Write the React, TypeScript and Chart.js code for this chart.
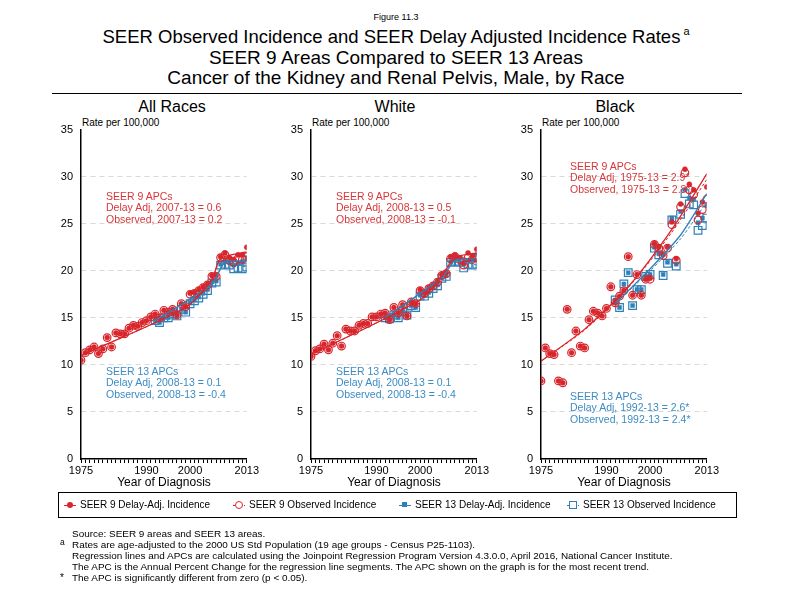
import React, { useEffect, useRef } from "react";
import { Chart, registerables } from "chart.js";
Chart.register(...registerables);

const FONT = "'Liberation Sans', Arial, sans-serif";
const RED = "#d8262c";
const BLUE = "#2f80b7";
const RED_TXT = "#d6373a";
const BLUE_TXT = "#3c8cc2";

// ---------- categories ----------
const YEARS_9 = [1975, 1976, 1977, 1978, 1979, 1980, 1981, 1982, 1983, 1984, 1985, 1986, 1987, 1988, 1989, 1990, 1991, 1992, 1993, 1994, 1995, 1996, 1997, 1998, 1999, 2000, 2001, 2002, 2003, 2004, 2005, 2006, 2007, 2008, 2009, 2010, 2011, 2012, 2013];
const YEARS_13 = [1992, 1993, 1994, 1995, 1996, 1997, 1998, 1999, 2000, 2001, 2002, 2003, 2004, 2005, 2006, 2007, 2008, 2009, 2010, 2011, 2012, 2013];
const X_LABEL_YEARS = [1975, 1990, 2000, 2013];

// ---------- All Races ----------
const AR9_DA = [10.5, 11.3, 11.6, 11.9, 11.2, 11.7, 12.9, 11.9, 13.4, 13.3, 13.3, 13.9, 14.2, 14.1, 14.5, 14.7, 15.1, 15.4, 15.0, 15.8, 15.6, 15.9, 15.3, 16.5, 16.2, 17.6, 17.7, 18.0, 18.3, 18.6, 19.5, 19.5, 21.5, 21.9, 21.4, 21.2, 21.7, 21.7, 22.5];
const AR9_OBS = [10.5, 11.3, 11.6, 11.9, 11.2, 11.7, 12.9, 11.9, 13.4, 13.3, 13.3, 13.9, 14.2, 14.1, 14.5, 14.7, 15.1, 15.4, 15.0, 15.8, 15.6, 15.9, 15.3, 16.5, 16.2, 17.5, 17.6, 17.9, 18.2, 18.5, 19.4, 19.4, 21.4, 21.7, 21.1, 20.9, 21.3, 21.2, 21.5];
const AR13_DA = [14.7, 14.5, 15.0, 15.0, 15.4, 15.2, 15.9, 15.6, 16.6, 16.9, 17.2, 17.6, 18.0, 18.8, 18.9, 20.7, 21.0, 20.9, 20.6, 20.8, 21.0, 21.4];
const AR13_OBS = [14.7, 14.5, 15.0, 15.0, 15.4, 15.2, 15.9, 15.6, 16.5, 16.8, 17.1, 17.5, 17.9, 18.7, 18.8, 20.6, 20.7, 20.6, 20.2, 20.3, 20.2, 20.4];
const AR_FIT9_YEARS = [1975, 1999, 2005, 2007, 2013];
const AR_FIT9_DA = [11.0, 16.1, 19.1, 21.3, 22.0];
const AR_FIT9_OBS = [11.0, 16.1, 19.0, 21.2, 21.5];
const AR_FIT13_YEARS = [1992, 2005, 2008, 2013];
const AR_FIT13_DA = [14.7, 18.6, 20.9, 21.0];
const AR_FIT13_OBS = [14.7, 18.6, 20.8, 20.4];

// ---------- White ----------
const W9_DA = [10.9, 11.5, 11.7, 12.2, 11.6, 12.3, 13.1, 12.0, 13.8, 13.6, 13.6, 14.2, 14.4, 14.4, 15.1, 15.1, 15.4, 15.5, 14.8, 16.1, 15.5, 16.4, 15.2, 16.7, 16.5, 18.0, 17.7, 18.2, 18.5, 18.9, 19.6, 19.8, 21.5, 21.7, 21.4, 20.8, 21.9, 21.6, 22.3];
const W9_OBS = [10.9, 11.5, 11.7, 12.2, 11.6, 12.3, 13.1, 12.0, 13.8, 13.6, 13.6, 14.2, 14.4, 14.4, 15.1, 15.1, 15.4, 15.5, 14.8, 16.1, 15.5, 16.4, 15.2, 16.7, 16.5, 17.9, 17.6, 18.1, 18.4, 18.8, 19.5, 19.7, 21.3, 21.5, 21.2, 20.6, 21.4, 21.2, 21.4];
const W13_DA = [15.0, 14.9, 15.3, 15.0, 15.7, 15.3, 16.3, 16.1, 17.4, 17.4, 17.7, 18.2, 18.5, 19.3, 19.5, 21.0, 21.3, 21.1, 20.7, 21.1, 21.2, 21.7];
const W13_OBS = [15.0, 14.9, 15.3, 15.0, 15.7, 15.3, 16.3, 16.1, 17.3, 17.3, 17.6, 18.1, 18.4, 19.2, 19.4, 20.9, 21.0, 20.9, 20.3, 20.7, 20.6, 20.7];
const W_FIT9_YEARS = [1975, 2000, 2005, 2008, 2013];
const W_FIT9_DA = [11.1, 16.9, 19.5, 21.4, 21.9];
const W_FIT9_OBS = [11.1, 16.9, 19.4, 21.3, 21.2];
const W_FIT13_YEARS = [1992, 2005, 2008, 2013];
const W_FIT13_DA = [15.0, 19.3, 21.1, 21.3];
const W_FIT13_OBS = [15.0, 19.2, 21.0, 20.6];

// ---------- Black ----------
const B9_DA = [8.3, 11.8, 11.2, 11.1, 8.3, 8.1, 15.9, 11.3, 13.6, 12.0, 11.8, 14.8, 15.7, 15.5, 15.2, 16.0, 18.3, 16.6, 17.3, 17.9, 21.5, 17.4, 19.6, 17.4, 19.1, 19.2, 22.9, 22.5, 21.7, 22.5, 25.2, 21.3, 27.1, 30.8, 29.2, 28.6, 26.1, 27.3, 28.9];
const B9_OBS = [8.3, 11.8, 11.2, 11.1, 8.3, 8.1, 15.9, 11.3, 13.6, 12.0, 11.8, 14.8, 15.7, 15.5, 15.2, 16.0, 18.3, 16.6, 17.3, 17.9, 21.5, 17.4, 19.6, 17.4, 19.1, 19.1, 22.8, 22.4, 21.6, 22.4, 24.9, 21.1, 26.8, 30.4, 28.6, 28.1, 25.4, 26.5, 27.6];
const B13_DA = [16.9, 16.1, 18.6, 19.8, 16.3, 18.0, 18.0, 19.4, 19.6, 22.5, 21.8, 19.6, 20.9, 25.6, 20.7, 26.3, 28.6, 27.7, 27.6, 25.1, 25.6, 26.9];
const B13_OBS = [16.9, 16.1, 18.6, 19.8, 16.3, 18.0, 18.0, 19.4, 19.6, 22.4, 21.7, 19.5, 20.8, 25.4, 20.5, 26.0, 28.2, 27.1, 27.0, 24.3, 24.8, 25.6];
const B_FIT9_YEARS = [1975, 1985, 1995, 2005, 2013];
const B_FIT9_DA = [10.4, 13.8, 18.3, 24.4, 30.3];
const B_FIT9_OBS = [10.4, 13.7, 18.2, 24.1, 29.7];
const B_FIT13_YEARS = [1992, 2000, 2007, 2013];
const B_FIT13_DA = [16.5, 20.2, 23.8, 28.2];
const B_FIT13_OBS = [16.5, 20.0, 23.4, 27.3];

type PanelData = {
  d9: number[]; o9: number[]; d13: number[]; o13: number[];
  fy9: number[]; fd9: number[]; fo9: number[];
  fy13: number[]; fd13: number[]; fo13: number[];
};

const PANELS: { title: string; titleX: number; left: number; data: PanelData; apc9: string[]; apc13: string[]; apc9Y: number; apc13Y: number; apcX: number }[] = [
  {
    title: "All Races", titleX: 172, left: 40,
    data: { d9: AR9_DA, o9: AR9_OBS, d13: AR13_DA, o13: AR13_OBS, fy9: AR_FIT9_YEARS, fd9: AR_FIT9_DA, fo9: AR_FIT9_OBS, fy13: AR_FIT13_YEARS, fd13: AR_FIT13_DA, fo13: AR_FIT13_OBS },
    apc9: ["SEER 9 APCs", "Delay Adj, 2007-13 = 0.6", "Observed, 2007-13 = 0.2"],
    apc13: ["SEER 13 APCs", "Delay Adj, 2008-13 = 0.1", "Observed, 2008-13 = -0.4"],
    apc9Y: 196.5, apc13Y: 371.5, apcX: 106,
  },
  {
    title: "White", titleX: 395, left: 270,
    data: { d9: W9_DA, o9: W9_OBS, d13: W13_DA, o13: W13_OBS, fy9: W_FIT9_YEARS, fd9: W_FIT9_DA, fo9: W_FIT9_OBS, fy13: W_FIT13_YEARS, fd13: W_FIT13_DA, fo13: W_FIT13_OBS },
    apc9: ["SEER 9 APCs", "Delay Adj, 2008-13 = 0.5", "Observed, 2008-13 = -0.1"],
    apc13: ["SEER 13 APCs", "Delay Adj, 2008-13 = 0.1", "Observed, 2008-13 = -0.4"],
    apc9Y: 196.5, apc13Y: 371.5, apcX: 336,
  },
  {
    title: "Black", titleX: 615, left: 500,
    data: { d9: B9_DA, o9: B9_OBS, d13: B13_DA, o13: B13_OBS, fy9: B_FIT9_YEARS, fd9: B_FIT9_DA, fo9: B_FIT9_OBS, fy13: B_FIT13_YEARS, fd13: B_FIT13_DA, fo13: B_FIT13_OBS },
    apc9: ["SEER 9 APCs", "Delay Adj, 1975-13 = 2.9*", "Observed, 1975-13 = 2.8*"],
    apc13: ["SEER 13 APCs", "Delay Adj, 1992-13 = 2.6*", "Observed, 1992-13 = 2.4*"],
    apc9Y: 166.5, apc13Y: 396.5, apcX: 570,
  },
];

const FOOTNOTES = [
  { mark: "", text: "Source: SEER 9 areas and SEER 13 areas." },
  { mark: "a", text: "Rates are age-adjusted to the 2000 US Std Population (19 age groups - Census P25-1103)." },
  { mark: "", text: "Regression lines and APCs are calculated using the Joinpoint Regression Program Version 4.3.0.0, April 2016, National Cancer Institute." },
  { mark: "", text: "The APC is the Annual Percent Change for the regression line segments. The APC shown on the graph is for the most recent trend." },
  { mark: "*", text: "The APC is significantly different from zero (p < 0.05)." },
];

const LEGEND = [
  { label: "SEER 9 Delay-Adj. Incidence", kind: "d9", x: 64 },
  { label: "SEER 9 Observed Incidence", kind: "o9", x: 233 },
  { label: "SEER 13 Delay-Adj. Incidence", kind: "d13", x: 399 },
  { label: "SEER 13 Observed Incidence", kind: "o13", x: 567 },
];

const pts = (xs: number[], ys: number[]) => xs.map((x, i) => ({ x, y: ys[i] }));

const CW = 220;
const CH = 370;
const CTOP = 115;

function Panel({ left, data }: { left: number; data: PanelData }) {
  const ref = useRef<HTMLCanvasElement>(null);
  useEffect(() => {
    if (!ref.current) return;
    const lineDs = (d: { x: number; y: number }[], color: string, dash: number[], w: number, order: number) => ({
      data: d, showLine: true, borderColor: color, borderWidth: w, borderDash: dash,
      pointRadius: 0, fill: false, order, tension: 0.25,
    });
    const ptDs = (d: { x: number; y: number }[], style: string, r: number, fillC: string, stroke: string, bw: number, order: number) => ({
      data: d, showLine: false, pointStyle: style, pointRadius: r,
      pointBackgroundColor: fillC, pointBorderColor: stroke, pointBorderWidth: bw,
      backgroundColor: fillC, borderColor: stroke, order,
    });
    const chart = new Chart(ref.current, {
      type: "scatter",
      data: {
        datasets: [
          lineDs(pts(data.fy9, data.fd9), RED, [], 1.3, 1),
          lineDs(pts(data.fy9, data.fo9), RED, [3, 2], 1, 2),
          lineDs(pts(data.fy13, data.fd13), BLUE, [], 1.3, 3),
          lineDs(pts(data.fy13, data.fo13), BLUE, [3, 2], 1, 4),
          ptDs(pts(YEARS_9, data.d9), "circle", 2.5, RED, RED, 0.5, 5),
          ptDs(pts(YEARS_9, data.o9), "circle", 3.8, "rgba(255,255,255,0)", RED, 1.2, 6),
          ptDs(pts(YEARS_13, data.d13), "rect", 2.8, BLUE, BLUE, 0.5, 7),
          ptDs(pts(YEARS_13, data.o13), "rect", 5.4, "rgba(255,255,255,0)", BLUE, 1.2, 8),
        ] as any,
      },
      options: {
        responsive: false,
        maintainAspectRatio: false,
        animation: false,
        layout: { padding: { top: 14, right: 13, left: 0, bottom: 0 } },
        plugins: { legend: { display: false }, tooltip: { enabled: false }, title: { display: false } },
        scales: {
          x: {
            type: "linear", min: 1975, max: 2013,
            afterBuildTicks: (s: any) => { s.ticks = YEARS_9.map((v) => ({ value: v })); },
            afterFit: (s: any) => { s.height = 26; },
            ticks: {
              autoSkip: false, maxRotation: 0, minRotation: 0, color: "#000", padding: 1,
              font: { size: 11, family: FONT },
              callback: (v: any) => (X_LABEL_YEARS.includes(Number(v)) ? String(v) : ""),
            },
            grid: { display: true, drawOnChartArea: false, drawTicks: true, tickLength: 4, color: "#000", lineWidth: 1 },
            border: { display: true, color: "#000", width: 1.5 },
          },
          y: {
            min: 0, max: 35,
            afterFit: (s: any) => { s.width = 41; },
            ticks: { stepSize: 5, color: "#000", padding: 8, font: { size: 11, family: FONT } },
            grid: {
              drawTicks: false, lineWidth: 1,
              color: (ctx: any) => (ctx.tick && (ctx.tick.value === 0 || ctx.tick.value === 35) ? "rgba(0,0,0,0)" : "#d9d9d9"),
            },
            border: { display: true, color: "#000", width: 1.5, dash: [5, 4] },
          },
        },
      } as any,
    });
    return () => chart.destroy();
  }, []);
  return (
    <canvas ref={ref} width={CW} height={CH}
      style={{ position: "absolute", left, top: CTOP, width: CW, height: CH }} />
  );
}

function Txt({ x, y, size, children, color = "#000", align = "left", style: extra = {} }: any) {
  const style: any = {
    position: "absolute", top: y - size * 0.6, fontSize: size, lineHeight: `${size * 1.2}px`,
    color, whiteSpace: "nowrap", fontFamily: FONT, ...extra,
  };
  if (align === "center") { style.left = x; style.transform = "translateX(-50%)"; }
  else style.left = x;
  return <div style={style}>{children}</div>;
}

function LegendMarker({ kind }: { kind: string }) {
  const color = kind.endsWith("13") ? BLUE : RED;
  const dashed = kind.startsWith("o");
  const line = (
    <div style={{ position: "absolute", left: 0, top: 5, width: 12, height: 0, borderTop: `1px ${dashed ? "dotted" : "solid"} ${color}` }} />
  );
  let shape: any;
  if (kind === "d9") shape = <div style={{ position: "absolute", left: 3, top: 2, width: 6, height: 6, borderRadius: 3, background: color }} />;
  else if (kind === "o9") shape = <div style={{ position: "absolute", left: 2, top: 1, width: 6, height: 6, borderRadius: 4, border: `1px solid ${color}`, background: "#fff" }} />;
  else if (kind === "d13") shape = <div style={{ position: "absolute", left: 3, top: 2, width: 5, height: 5, background: color }} />;
  else shape = <div style={{ position: "absolute", left: 2, top: 1, width: 6, height: 6, border: `1px solid ${color}`, background: "#fff" }} />;
  return <div style={{ position: "relative", width: 12, height: 10 }}>{line}{shape}</div>;
}

export default function App() {
  return (
    <div style={{ position: "absolute", left: 0, top: 0, width: 792, height: 612, background: "#fff", fontFamily: FONT, overflow: "hidden" }}>
      <Txt x={396} y={17} size={9} align="center">Figure 11.3</Txt>
      <Txt x={396} y={37} size={18.5} align="center">
        SEER Observed Incidence and SEER Delay Adjusted Incidence Rates
        <span style={{ fontSize: 11, position: "relative", top: -8, marginLeft: 3 }}>a</span>
      </Txt>
      <Txt x={396} y={58} size={19} align="center">SEER 9 Areas Compared to SEER 13 Areas</Txt>
      <Txt x={396} y={78} size={19} align="center">Cancer of the Kidney and Renal Pelvis, Male, by Race</Txt>
      <div style={{ position: "absolute", left: 52, top: 93, width: 690, height: 0, borderTop: "1px solid #000" }} />

      {PANELS.map((p, i) => (
        <React.Fragment key={i}>
          <Txt x={p.titleX} y={107} size={16} align="center">{p.title}</Txt>
          <Txt x={p.left + 42} y={123} size={10}>Rate per 100,000</Txt>
          <Panel left={p.left} data={p.data} />
          <Txt x={p.left + 124} y={482} size={12} align="center">Year of Diagnosis</Txt>
          {p.apc9.map((t, k) => (
            <Txt key={"r" + k} x={p.apcX} y={p.apc9Y + k * 11.2} size={10.5} color={RED_TXT}>{t}</Txt>
          ))}
          {p.apc13.map((t, k) => (
            <Txt key={"b" + k} x={p.apcX} y={p.apc13Y + k * 11.2} size={10.5} color={BLUE_TXT}>{t}</Txt>
          ))}
        </React.Fragment>
      ))}

      <div style={{ position: "absolute", left: 58, top: 492, width: 679, height: 26, border: "1px solid #000", boxSizing: "border-box" }} />
      {LEGEND.map((l, i) => (
        <div key={i} style={{ position: "absolute", left: l.x, top: 499, display: "flex", alignItems: "center", gap: 4, fontSize: 10, lineHeight: "12px", whiteSpace: "nowrap" }}>
          <LegendMarker kind={l.kind} />
          <span>{l.label}</span>
        </div>
      ))}

      {FOOTNOTES.map((f, i) => (
        <React.Fragment key={i}>
          {f.mark && <Txt x={60} y={534 + i * 11 - (f.mark === "a" ? 3 : 0)} size={f.mark === "a" ? 8.5 : 10}>{f.mark}</Txt>}
          <Txt x={72} y={534 + i * 11} size={9.95}>{f.text}</Txt>
        </React.Fragment>
      ))}
    </div>
  );
}
